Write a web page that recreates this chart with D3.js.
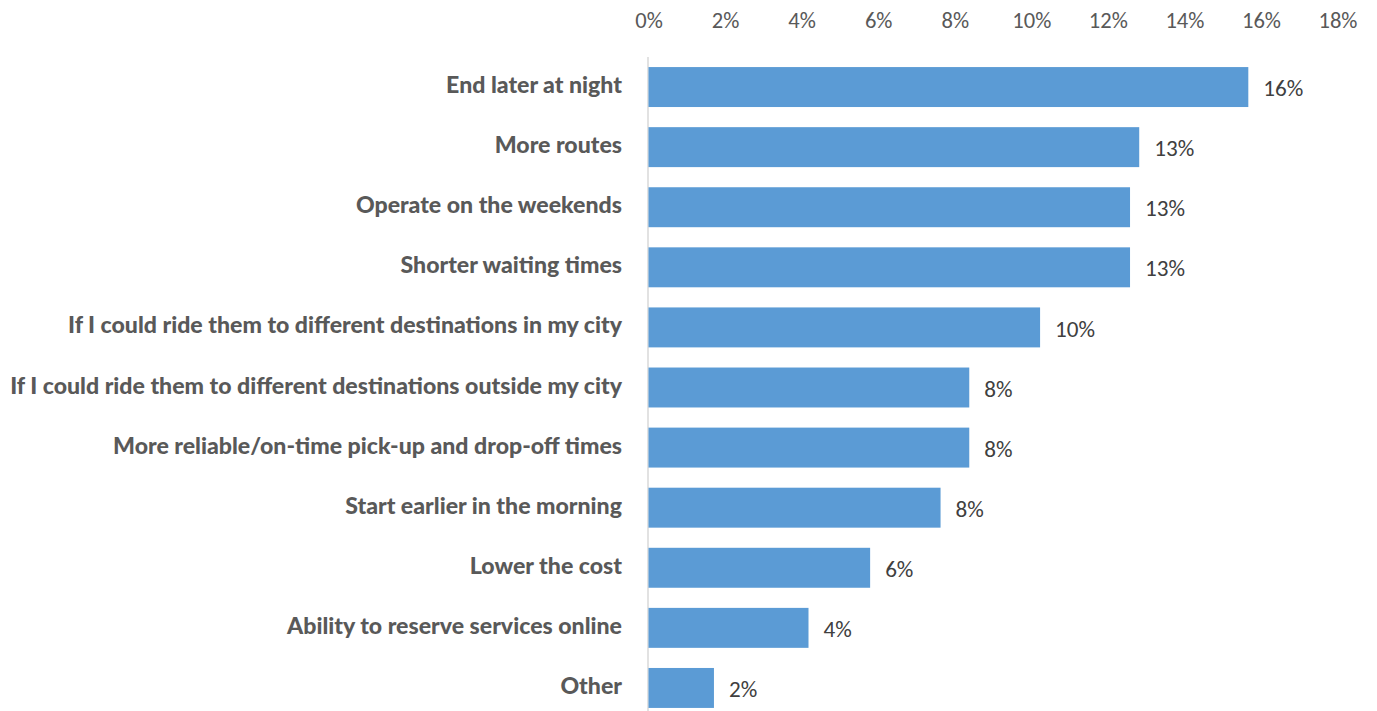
<!DOCTYPE html>
<html>
<head>
<meta charset="utf-8">
<script src="https://cdn.jsdelivr.net/npm/d3@7"></script>
<style>
  html, body { margin: 0; padding: 0; background: #ffffff; }
  svg { display: block; }
</style>
</head>
<body>
<svg id="chart" width="1377" height="711"></svg>
<script>
// Reasons that would make riders use the service more (share of responses)
const categories = [
  "End later at night",
  "More routes",
  "Operate on the weekends",
  "Shorter waiting times",
  "If I could ride them to different destinations in my city",
  "If I could ride them to different destinations outside my city",
  "More reliable/on-time pick-up and drop-off times",
  "Start earlier in the morning",
  "Lower the cost",
  "Ability to reserve services online",
  "Other"
];
const shares = [0.1567, 0.1282, 0.1258, 0.1258, 0.1023, 0.0838, 0.0838, 0.0763, 0.0579, 0.0418, 0.0171];
const tickValues = [0, 0.02, 0.04, 0.06, 0.08, 0.10, 0.12, 0.14, 0.16, 0.18];

const svg = d3.select("#chart");
const W = 1377, H = 711;
const numFont = "Carlito, 'Liberation Sans', sans-serif";

const x = d3.scaleLinear().domain([0, 0.18]).range([648.5, 1337.5]);
const y = d3.scaleBand().domain(categories).range([57, 718]).paddingInner(0.335).paddingOuter(0.1675);

const pct = d3.format(".0%");

// fit a text selection's font size so a given node reaches a target width
function fitSize(sel, base, node, target) {
  sel.attr("font-size", base);
  const w = node.getComputedTextLength();
  sel.attr("font-size", base * target / w);
}

// top value axis: labels only, no domain line or tick marks
const xAxis = d3.axisTop(x).tickValues(tickValues).tickFormat(pct).tickSize(0).tickPadding(0);
const gx = svg.append("g").attr("transform", "translate(0,28)").call(xAxis);
gx.select(".domain").remove();
const tickText = gx.selectAll("text")
  .attr("font-family", numFont)
  .attr("fill", "#595959");
fitSize(tickText, 20, tickText.nodes()[tickText.size() - 1], 39);

// category axis line
svg.append("line")
  .attr("x1", x(0) - 0.5).attr("x2", x(0) - 0.5)
  .attr("y1", 57).attr("y2", H)
  .attr("stroke", "#d9d9d9").attr("stroke-width", 1.5);

// bars
svg.append("g").selectAll("rect")
  .data(categories)
  .join("rect")
  .attr("x", x(0))
  .attr("y", d => y(d))
  .attr("width", (d, i) => x(shares[i]) - x(0))
  .attr("height", y.bandwidth())
  .attr("fill", "#5b9bd5");

// value labels
const valueText = svg.append("g").selectAll("text")
  .data(categories)
  .join("text")
  .attr("x", (d, i) => x(shares[i]) + 15)
  .attr("y", d => y(d) + y.bandwidth() / 2 + 1)
  .attr("dy", "0.35em")
  .attr("font-family", numFont)
  .attr("fill", "#404040")
  .text((d, i) => pct(shares[i]));
fitSize(valueText, 20, valueText.nodes()[0], 40);

// category labels, right-aligned against the axis
const labels = svg.append("g").selectAll("text")
  .data(categories)
  .join("text")
  .attr("x", 622)
  .attr("y", d => y(d) + y.bandwidth() / 2 - 2)
  .attr("dy", "0.35em")
  .attr("text-anchor", "end")
  .attr("font-family", "'Source Sans Pro', Lato, 'Noto Sans', sans-serif")
  .attr("font-weight", 900)
  .attr("fill", "#595959")
  .text(d => d);

// the longest label spans the space left of the axis
const widestNode = labels.nodes().reduce((a, b) => a.getComputedTextLength() > b.getComputedTextLength() ? a : b);
fitSize(labels, 20, widestNode, 612);
</script>
</body>
</html>
